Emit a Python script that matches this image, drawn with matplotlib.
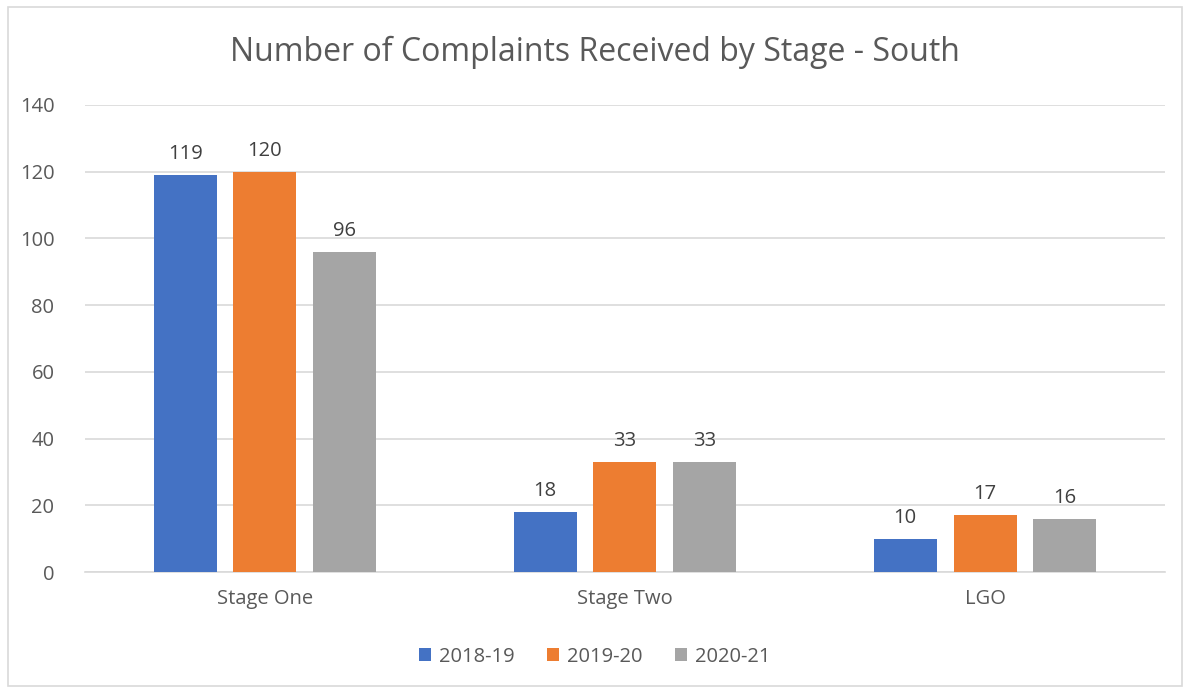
import numpy as np
import matplotlib.pyplot as plt
from matplotlib.patches import Rectangle

# Dados
stages = ["Stage One", "Stage Two", "LGO"]
years = ["2018-19", "2019-20", "2020-21"]
v_2018 = [119, 18, 10]
v_2019 = [120, 33, 17]
v_2020 = [96, 33, 16]
colors = ["#4472C4", "#ED7D31", "#A5A5A5"]

plt.rcParams['font.family'] = ['Open Sans', 'DejaVu Sans']
txt = "#595959"

fig = plt.figure(figsize=(11.9, 6.93), dpi=100)
ax = fig.add_axes([0.0714, 0.1746, 0.9076, 0.6739])

# Borda externa do gráfico
fig.patches.append(Rectangle((8 / 1190, 7 / 693), 1174 / 1190, 679 / 693,
                             transform=fig.transFigure, fill=False,
                             edgecolor="#d9d9d9", linewidth=1.2))

x = np.arange(len(stages))
w = 0.175
off = 0.222
for i, (vals, lab, c) in enumerate(zip([v_2018, v_2019, v_2020], years, colors)):
    bars = ax.bar(x + (i - 1) * off, vals, w, color=c, label=lab, zorder=3)
    ax.bar_label(bars, padding=8, fontsize=14.5, color="#404040")

ax.set_xlim(-0.5, 2.5)
ax.set_ylim(0, 140)
ax.set_yticks(range(0, 141, 20))
ax.set_xticks(x)
ax.set_xticklabels(stages)
ax.tick_params(axis='both', length=0, labelsize=14.5, labelcolor=txt)
ax.tick_params(axis='x', pad=12)
ax.tick_params(axis='y', pad=22)
ax.grid(axis='y', color="#d9d9d9", linewidth=1.2, zorder=0)
for s in ['top', 'right', 'left']:
    ax.spines[s].set_visible(False)
ax.spines['bottom'].set_color("#d9d9d9")
ax.spines['bottom'].set_linewidth(1.2)

fig.text(0.5, 0.925, "Number of Complaints Received by Stage - South",
         ha='center', va='center', fontsize=23, color=txt)

fig.legend(loc='center', bbox_to_anchor=(0.5, 0.052), ncol=3, frameon=False,
           fontsize=14.5, labelcolor=txt, handlelength=0.6, handleheight=0.6,
           handletextpad=0.4, columnspacing=1.6)

fig.savefig("out.png", dpi=100)
